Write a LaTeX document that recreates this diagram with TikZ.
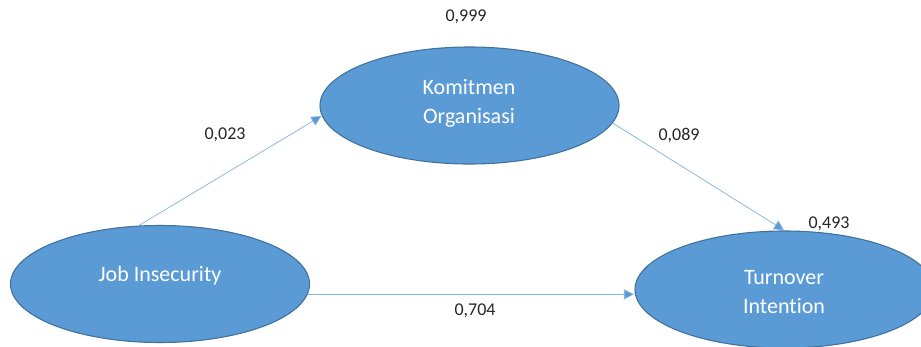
\documentclass[tikz,border=0pt]{standalone}
\usepackage{fontspec}
\setmainfont{Carlito}[Ligatures={NoCommon}]
\usetikzlibrary{shapes.geometric,arrows.meta}
\definecolor{ellfill}{HTML}{5B9BD5}
\definecolor{elldraw}{HTML}{41719C}
\definecolor{conn}{HTML}{5B9BD5}
\definecolor{lbl}{HTML}{262626}
\tikzset{
  construct/.style={ellipse, draw=elldraw, fill=ellfill, line width=1.1pt,
    minimum width=299pt, minimum height=117pt, inner sep=0pt},
  ctext/.style={text=white, font=\fontsize{22}{29}\selectfont, align=center, inner sep=0pt},
  coef/.style={text=lbl, font=\fontsize{18}{22}\selectfont, inner sep=0pt},
  path/.style={draw=conn!75, line width=0.75pt, -{Triangle[length=10pt,width=10pt,fill=conn]}, shorten >=0.5pt}
}
\begin{document}
\begin{tikzpicture}[x=1pt,y=-1pt]
\useasboundingbox (0,0) rectangle (921,346);
\clip (0,0) rectangle (921,346);
\node[construct] (ko) at (469.5,105.5) {};
\node[construct] (ji) at (160,284) {};
\node[construct] (ti) at (784.5,289.5) {};
\node[ctext] (kot) at (469,103.5) {Komitmen\\Organisasi};
\node[ctext] (jit) at (160,276) {Job Insecurity};
\node[ctext] (tit) at (784,292) {Turnover\\Intention};
\draw[path] (ji.110.4) -- (ko.184.5);
\draw[path] (ko.353.6) -- (ti.north);
\draw[path] (ji.356.1) -- (ji.356.1 -| ti.west);
\node[coef] (c999) at (466,17) {0,999};
\node[coef] (c023) at (225,135) {0,023};
\node[coef] (c089) at (679,135) {0,089};
\node[coef] (c493) at (829,224) {0,493};
\node[coef] (c704) at (475,311) {0,704};
\end{tikzpicture}
\end{document}
